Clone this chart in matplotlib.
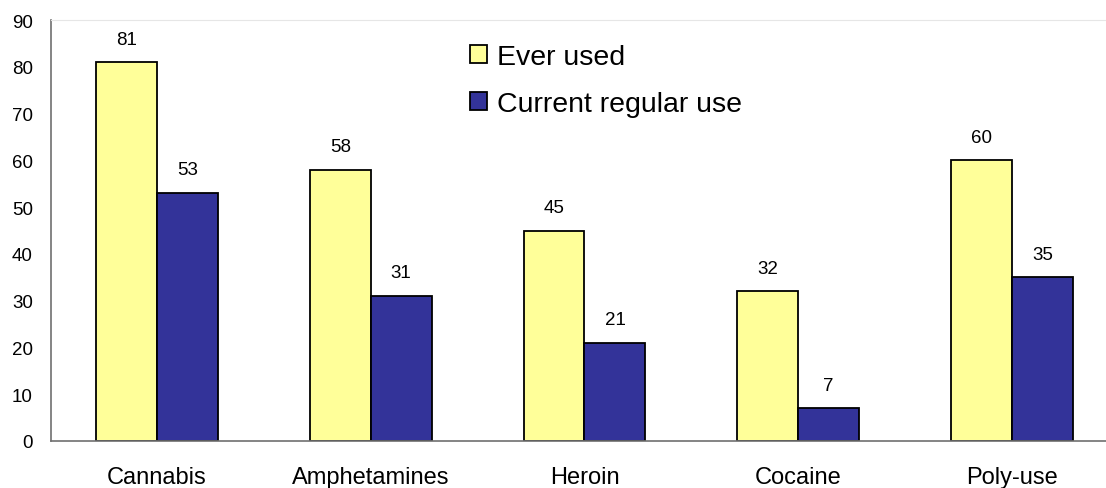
import numpy as np
import matplotlib
matplotlib.use("Agg")
import matplotlib.pyplot as plt

plt.rcParams['font.family'] = ['Liberation Sans', 'DejaVu Sans']

# dados do gráfico
categorias = ["Cannabis", "Amphetamines", "Heroin", "Cocaine", "Poly-use"]
ever_used = [81, 58, 45, 32, 60]
current_use = [53, 31, 21, 7, 35]
serie_nomes = ["Ever used", "Current regular use"]
cores = ["#FFFF99", "#333399"]

fig = plt.figure(figsize=(11.06, 4.89), dpi=100)
ax = fig.add_axes([51 / 1106, 1 - 442 / 489, 1 - 51 / 1106, (442 - 21) / 489])

x = np.arange(len(categorias))
w = 0.285

b1 = ax.bar(x - w / 2, ever_used, w, color=cores[0], edgecolor="black", linewidth=1.3, label=serie_nomes[0])
b2 = ax.bar(x + w / 2, current_use, w, color=cores[1], edgecolor="black", linewidth=1.3, label=serie_nomes[1])

# rótulos de valor acima das barras
for barras in (b1, b2):
    for b in barras:
        ax.annotate(str(int(b.get_height())), (b.get_x() + b.get_width() / 2, b.get_height()),
                    xytext=(0, 10.5), textcoords="offset points", ha="center", va="bottom", fontsize=13.5)

ax.set_xlim(-0.496, 4.44)
ax.set_ylim(0, 90)
ax.set_yticks(range(0, 91, 10))
ax.set_xticks(x)
ax.set_xticklabels(categorias, fontsize=17)
ax.tick_params(axis="y", labelsize=13.5, length=0, pad=13)
ax.tick_params(axis="x", length=0, pad=18)

for s in ("left", "bottom"):
    ax.spines[s].set_color("#707070")
    ax.spines[s].set_linewidth(1.2)
ax.spines["right"].set_visible(False)
ax.spines["top"].set_color("#e6e6e6")

ax.legend(loc="upper left", bbox_to_anchor=(456 / 1106, 1 - 31 / 489), bbox_transform=fig.transFigure,
          frameon=False, fontsize=20.5, handlelength=0.6, handleheight=0.6, handletextpad=0.35,
          labelspacing=0.72, borderpad=0)

fig.savefig("out.png", dpi=100)
